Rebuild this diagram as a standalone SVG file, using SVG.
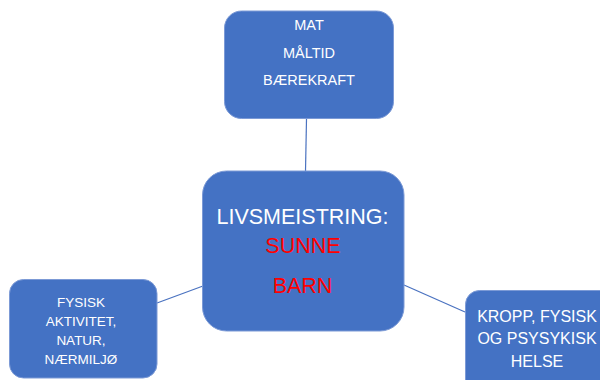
<svg xmlns="http://www.w3.org/2000/svg" width="600" height="380" viewBox="0 0 600 380">
<style>
.box{fill:#4472C4;stroke:#7c9ad6;stroke-width:1}
.conn{stroke:#4A72C0;stroke-width:1.2;fill:none}
text{font-family:"Liberation Sans","Open Sans",Arial,sans-serif;text-anchor:middle}
.w{fill:#ffffff}
.r{fill:#FF0000}
</style>
<rect width="600" height="380" fill="#ffffff"/>
<g id="connectors">
<line class="conn" x1="306.5" y1="119" x2="305.5" y2="171"/>
<line class="conn" x1="157" y1="303" x2="203" y2="286"/>
<line class="conn" x1="404" y1="285" x2="465" y2="312"/>
</g>
<g id="node-mat">
<rect class="box" x="224.5" y="11" width="169" height="107.5" rx="17"/>
<text class="w" font-size="14.5" x="309" y="30">MAT</text>
<text class="w" font-size="14.5" x="309" y="58">MÅLTID</text>
<text class="w" font-size="14.5" x="309" y="85">BÆREKRAFT</text>
</g>
<g id="node-center">
<rect class="box" x="202.5" y="171" width="201.5" height="160" rx="24"/>
<text class="w" font-size="21.5" x="302.5" y="224">LIVSMEISTRING:</text>
<text class="r" font-size="21.5" x="303" y="253">SUNNE</text>
<text class="r" font-size="21.5" x="302.5" y="293">BARN</text>
</g>
<g id="node-fysisk">
<rect class="box" x="9.5" y="279.5" width="147.5" height="98.5" rx="14"/>
<text class="w" font-size="13.5" x="81" y="307">FYSISK</text>
<text class="w" font-size="13.5" x="81" y="326">AKTIVITET,</text>
<text class="w" font-size="13.5" x="81" y="345">NATUR,</text>
<text class="w" font-size="13.5" x="81" y="364">NÆRMILJØ</text>
</g>
<g id="node-kropp">
<rect class="box" x="465.5" y="290.5" width="150" height="110" rx="14"/>
<text class="w" font-size="16" x="537" y="322">KROPP, FYSISK</text>
<text class="w" font-size="16" x="537" y="344">OG PSYSYKISK</text>
<text class="w" font-size="16" x="537" y="367">HELSE</text>
</g>
</svg>
